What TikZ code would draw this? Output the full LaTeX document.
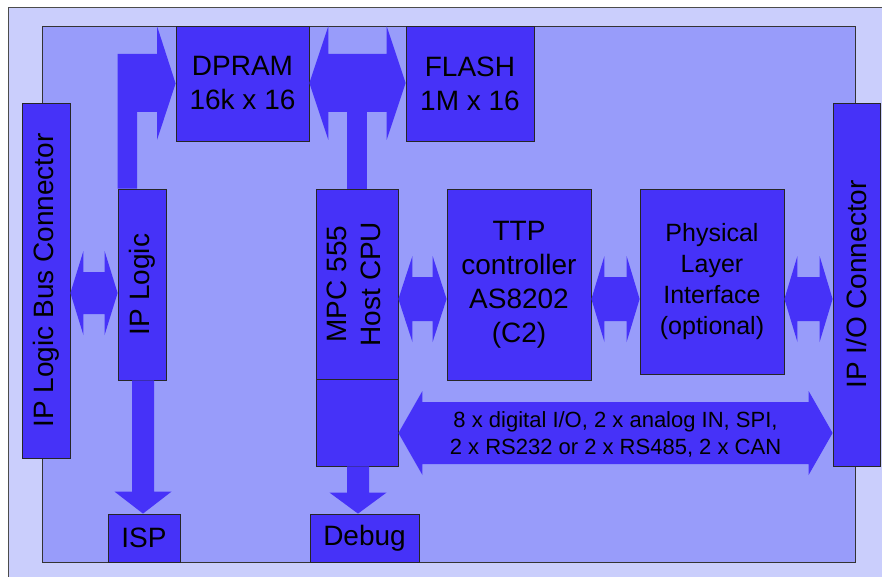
\documentclass[tikz,border=0pt]{standalone}
\usepackage{fontspec}
\setmainfont{Liberation Sans}
\usepackage{graphicx}
\usetikzlibrary{calc}
\definecolor{outerbg}{RGB}{202,206,252}
\definecolor{innerbg}{RGB}{152,156,250}
\definecolor{chip}{RGB}{70,50,248}
\tikzset{
  block/.style={draw=black!85, line width=0.8pt, fill=chip, inner sep=0pt, align=center, font=\fontsize{28}{34}\selectfont},
  dims/.style 2 args={minimum width=#1pt, minimum height=#2pt},
  bus/.style={fill=chip},
}
% horizontal double bus arrow: left anchor, right anchor, y, head half, shaft half, head length
\newcommand{\hbus}[6]{%
  \path (#1 |- 0,#3) coordinate (l) (#2 |- 0,#3) coordinate (r);
  \fill[bus] (l) -- ++(#6,-#4) -- ++(0,#4-#5) -- ($(r)+(-#6,-#5)$) -- ++(0,#5-#4) -- (r)
    -- ++(-#6,#4) -- ++(0,#5-#4) -- ($(l)+(#6,#5)$) -- ++(0,#4-#5) -- cycle;
}
% vertical single bus arrow: from anchor, to anchor, x, head half, shaft half, head length
\newcommand{\vbus}[6]{%
  \path (#3,0 |- #1) coordinate (t) (#3,0 |- #2) coordinate (b);
  \fill[bus] ($(t)+(-#5,0)$) -- ($(b)+(-#5,-#6)$) -- ++(#5-#4,0) -- (b) -- ++(#4,-#6)
    -- ++(#5-#4,0) -- ($(t)+(#5,0)$) -- cycle;
}
\begin{document}
\begin{tikzpicture}[x=1pt,y=-1pt]
  \path[use as bounding box] (0,0) rectangle (882,577);
  \clip (0,0) rectangle (882,577);
  % module frame
  \draw[black!70, line width=0.8pt, fill=outerbg] (8,7) rectangle (892,590);
  \draw[black!80, line width=0.8pt, fill=innerbg] (42,26) rectangle (855,562);

  \node[block, dims={133}{115}] (dpram) at (242.5,83.5) {DPRAM\\16k x 16};
  \node[block, dims={128}{115}] (flash) at (470,83.5) {FLASH\\1M x 16};
  \node[block, dims={48}{355}] (buscon) at (46,280.5) {\rotatebox{90}{IP Logic Bus Connector}};
  \node[block, dims={48}{191}] (iplogic) at (142,284.5) {\rotatebox{90}{IP Logic}};
  \node[block, dims={82}{190}] (cpu) at (357,284) {\rotatebox{90}{\begin{tabular}{@{}c@{}}MPC 555\\Host CPU\end{tabular}}};
  \node[block, dims={82}{87}] (cpuport) at (357,422.5) {};
  \node[block, dims={72}{48}] (isp) at (144,538) {ISP};
  \node[block, dims={109}{48}] (debug) at (364.5,538) {Debug};
  \node[block, dims={144}{191}] (ttp) at (519,284.5) {TTP\\controller\\AS8202\\(C2)};
  \node[block, dims={144}{185}, font=\fontsize{25}{31}\selectfont] (phy) at (712,282) {Physical\\Layer\\Interface\\(optional)};
  \node[block, dims={47}{363}] (ioconn) at (856.5,284.5) {\rotatebox{90}{IP I/O Connector}};

  % memory bus
  \fill[bus] (iplogic.north west) |- (157,54) -- (157,26) -- (dpram.west) -- (157,140) -- (157,112)
    -| (137,0 |- iplogic.north) -- cycle;
  \hbus{dpram.east}{flash.west}{83}{57}{29}{19}
  \fill[bus] ($(cpu.north)+(-10,-90)$) rectangle ($(cpu.north)+(10,0)$);
  % links
  \hbus{buscon.east}{iplogic.west}{293}{42}{21}{13}
  \hbus{cpu.east}{ttp.west}{299}{43}{22}{14}
  \hbus{ttp.east}{phy.west}{299}{43}{22}{13}
  \hbus{phy.east}{ioconn.west}{299}{43}{22}{13}
  \hbus{cpuport.east}{ioconn.west}{433}{42}{31}{24}
  \node[align=center, font=\fontsize{22}{27}\selectfont] (iolabel) at (615.5,434)
    {8 x digital I/O, 2 x analog IN, SPI,\\2 x RS232 or 2 x RS485, 2 x CAN};
  \vbus{iplogic.south}{isp.north}{143}{28.5}{11}{22}
  \vbus{cpuport.south}{debug.north}{358}{28.5}{11}{21}
\end{tikzpicture}
\end{document}
